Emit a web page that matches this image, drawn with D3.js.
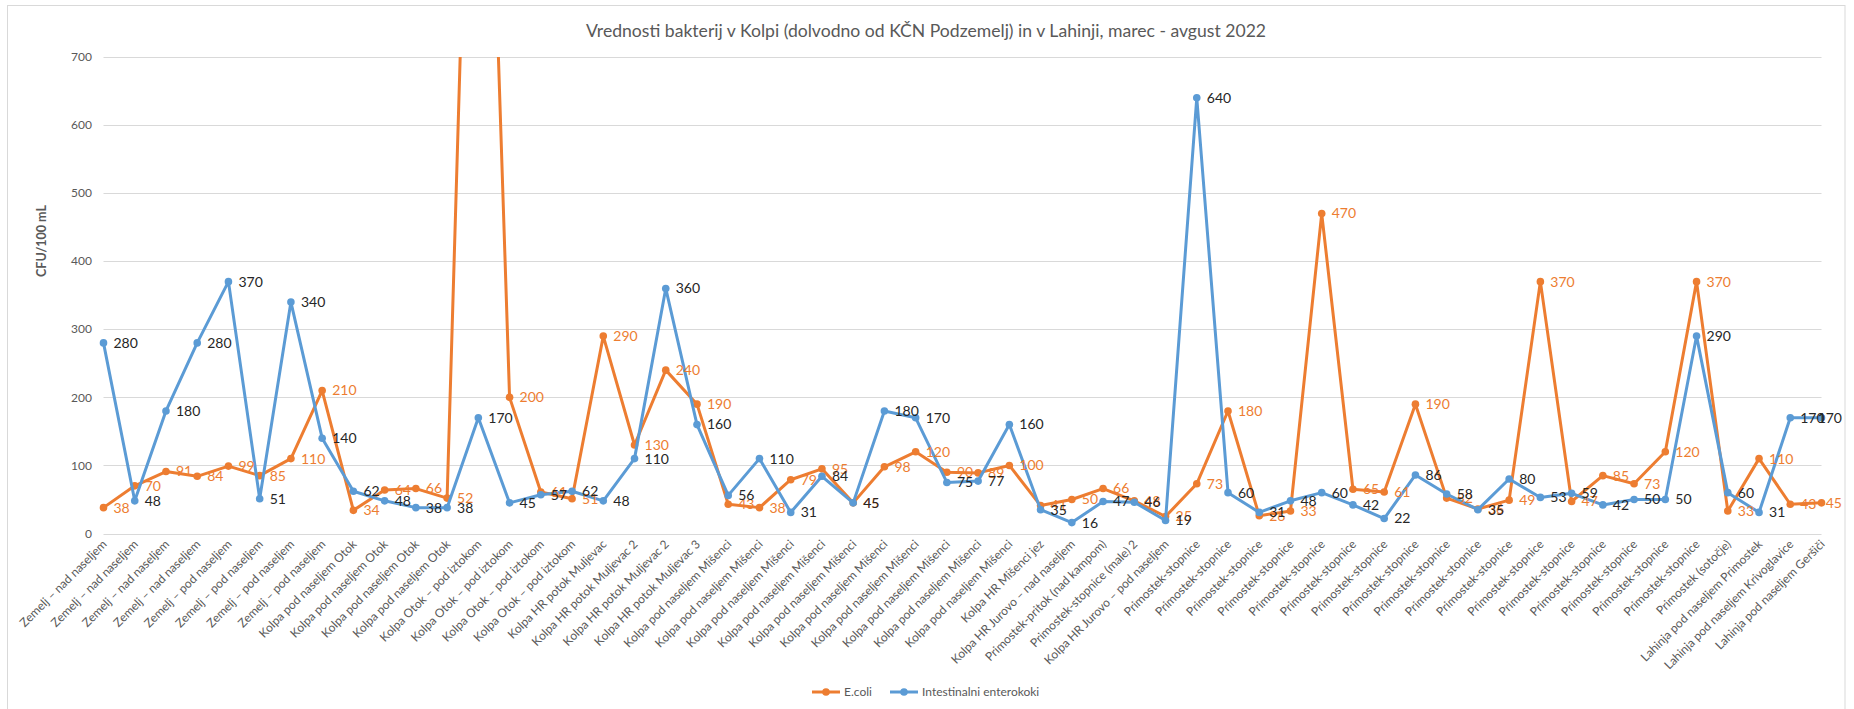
<!DOCTYPE html>
<html lang="sl">
<head>
<meta charset="UTF-8">
<script src="https://cdn.jsdelivr.net/npm/d3@7"></script>
<title>Vrednosti bakterij</title>
<style>
    body { margin: 0; background: #fff; }
    svg { display: block; font-family: Lato, "Liberation Sans", sans-serif; }
    .grid line { stroke: #d9d9d9; stroke-width: 1; }
    .tick-lab { fill: #595959; font-size: 12px; }
    .cat-lab { fill: #595959; font-size: 12px; }
    .dlab { font-size: 14px; }
</style>
</head>
<body>
<svg id="chart" width="1854" height="709"></svg>
<script>
    // categories (sampling points), in chart order
    const categories = [
        "Zemelj – nad naseljem", "Zemelj – nad naseljem", "Zemelj – nad naseljem", "Zemelj – nad naseljem",
        "Zemelj – pod naseljem", "Zemelj – pod naseljem", "Zemelj – pod naseljem", "Zemelj – pod naseljem",
        "Kolpa pod naseljem Otok", "Kolpa pod naseljem Otok", "Kolpa pod naseljem Otok", "Kolpa pod naseljem Otok",
        "Kolpa Otok – pod iztokom", "Kolpa Otok – pod iztokom", "Kolpa Otok – pod iztokom", "Kolpa Otok – pod iztokom",
        "Kolpa HR potok Muljevac", "Kolpa HR potok Muljevac 2", "Kolpa HR potok Muljevac 2", "Kolpa HR potok Muljevac 3",
        "Kolpa pod naseljem Mišenci", "Kolpa pod naseljem Mišenci", "Kolpa pod naseljem Mišenci", "Kolpa pod naseljem Mišenci",
        "Kolpa pod naseljem Mišenci", "Kolpa pod naseljem Mišenci", "Kolpa pod naseljem Mišenci", "Kolpa pod naseljem Mišenci",
        "Kolpa pod naseljem Mišenci", "Kolpa pod naseljem Mišenci",
        "Kolpa HR Mišenci jez", "Kolpa HR Jurovo – nad naseljem", "Primostek-pritok (nad kampom)",
        "Primostek-stopnice (male) 2", "Kolpa HR Jurovo – pod naseljem",
        "Primostek-stopnice", "Primostek-stopnice", "Primostek-stopnice", "Primostek-stopnice", "Primostek-stopnice",
        "Primostek-stopnice", "Primostek-stopnice", "Primostek-stopnice", "Primostek-stopnice", "Primostek-stopnice",
        "Primostek-stopnice", "Primostek-stopnice", "Primostek-stopnice", "Primostek-stopnice", "Primostek-stopnice",
        "Primostek-stopnice", "Primostek-stopnice",
        "Primostek (sotočje)", "Lahinja pod naseljem Primostek", "Lahinja pod naseljem Krivoglavice",
        "Lahinja pod naseljem Geršiči"
    ];

    // E.coli (CFU/100 mL); point 13 runs off the top of the chart
    const ecoli = [
        38, 70, 91, 84, 99, 85, 110, 210, 34, 64, 66, 52, 1600, 200, 61, 51,
        290, 130, 240, 190, 43, 38, 79, 95, 45, 98, 120, 90, 89, 100,
        41, 50, 66, 48, 25, 73, 180, 26, 33, 470, 65, 61, 190, 52, 36, 49,
        370, 47, 85, 73, 120, 370, 33, 110, 43, 45
    ];

    // Intestinalni enterokoki (CFU/100 mL)
    const enterokoki = [
        280, 48, 180, 280, 370, 51, 340, 140, 62, 48, 38, 38, 170, 45, 57, 62,
        48, 110, 360, 160, 56, 110, 31, 84, 45, 180, 170, 75, 77, 160,
        35, 16, 47, 46, 19, 640, 60, 31, 48, 60, 42, 22, 86, 58, 35, 80,
        53, 59, 42, 50, 50, 290, 60, 31, 170, 170
    ];

    const yTicks = [0, 100, 200, 300, 400, 500, 600, 700];

    const seriesNames = ["E.coli", "Intestinalni enterokoki"];
    const colors = ["#ED7D31", "#5B9BD5"];
    const labelColors = ["#ED7D31", "#262626"];

    const svg = d3.select("#chart");
    const frameRight = 1845;

    // chart frame
    svg.append("rect")
        .attr("x", 7.5).attr("y", 5.5)
        .attr("width", frameRight - 7.5).attr("height", 720)
        .attr("fill", "#fff")
        .attr("stroke", "#d9d9d9");

    const x = d3.scalePoint()
        .domain(d3.range(categories.length))
        .range([103.5, 1821.5]);

    const y = d3.scaleLinear()
        .domain([0, 700])
        .range([533.5, 57]);

    // title
    svg.append("text")
        .attr("x", 926).attr("y", 37)
        .attr("text-anchor", "middle")
        .attr("fill", "#595959")
        .style("font-size", "17.6px")
        .text("Vrednosti bakterij v Kolpi (dolvodno od KČN Podzemelj) in v Lahinji, marec - avgust 2022");

    // gridlines
    svg.append("g").attr("class", "grid")
        .selectAll("line")
        .data(yTicks)
        .join("line")
        .attr("x1", x.range()[0]).attr("x2", x.range()[1])
        .attr("y1", d => Math.round(y(d)) + 0.5)
        .attr("y2", d => Math.round(y(d)) + 0.5);

    // y axis labels
    svg.append("g")
        .selectAll("text")
        .data(yTicks)
        .join("text")
        .attr("class", "tick-lab")
        .attr("x", 92)
        .attr("y", d => y(d))
        .attr("dy", "0.35em")
        .attr("text-anchor", "end")
        .text(d => d);

    svg.append("text")
        .attr("transform", "translate(46,241) rotate(-90)")
        .attr("text-anchor", "middle")
        .attr("fill", "#595959")
        .style("font-size", "12.5px")
        .style("font-weight", "bold")
        .text("CFU/100 mL");

    // category labels
    svg.append("g")
        .selectAll("text")
        .data(categories)
        .join("text")
        .attr("class", "cat-lab")
        .attr("text-anchor", "end")
        .attr("transform", (d, i) => `translate(${x(i) + 4},${545}) rotate(-45)`)
        .text(d => d);

    // lines and markers, clipped to plot area
    svg.append("clipPath").attr("id", "plot-clip")
        .append("rect")
        .attr("x", 0).attr("y", y(700))
        .attr("width", 1854).attr("height", y(0) - y(700) + 10);

    const line = d3.line()
        .x((d, i) => x(i))
        .y(d => y(d));

    const allSeries = [ecoli, enterokoki];
    const plot = svg.append("g").attr("clip-path", "url(#plot-clip)");

    allSeries.forEach((vals, s) => {
        plot.append("path")
            .datum(vals)
            .attr("d", line)
            .attr("fill", "none")
            .attr("stroke", colors[s])
            .attr("stroke-width", 3)
            .attr("stroke-linejoin", "round");

        plot.append("g")
            .selectAll("circle")
            .data(vals)
            .join("circle")
            .attr("cx", (d, i) => x(i))
            .attr("cy", d => y(d))
            .attr("r", 3.8)
            .attr("fill", colors[s]);
    });

    // data labels (orange first, blue on top); keep them inside the chart frame
    allSeries.forEach((vals, s) => {
        svg.append("g")
            .selectAll("text")
            .data(vals.map((v, i) => ({ v, i })).filter(d => d.v <= 700))
            .join("text")
            .attr("class", "dlab")
            .attr("x", d => x(d.i) + 10)
            .attr("y", d => y(d.v))
            .attr("dy", "0.35em")
            .attr("fill", labelColors[s])
            .text(d => d.v)
            .each(function (d) {
                const w = this.getComputedTextLength();
                const lx = x(d.i) + 10;
                if (lx + w > frameRight - 3) d3.select(this).attr("x", frameRight - 3 - w);
            });
    });

    // legend
    const legend = svg.append("g").attr("transform", "translate(812,692)");
    const legendX = [0, 78];
    seriesNames.forEach((name, s) => {
        const g = legend.append("g").attr("transform", `translate(${legendX[s]},0)`);
        g.append("line")
            .attr("x1", 0).attr("x2", 28)
            .attr("stroke", colors[s]).attr("stroke-width", 3);
        g.append("circle")
            .attr("cx", 14).attr("r", 3.8)
            .attr("fill", colors[s]);
        g.append("text")
            .attr("x", 32).attr("dy", "0.35em")
            .attr("fill", "#595959")
            .style("font-size", "12px")
            .text(name);
    });
</script>
</body>
</html>
